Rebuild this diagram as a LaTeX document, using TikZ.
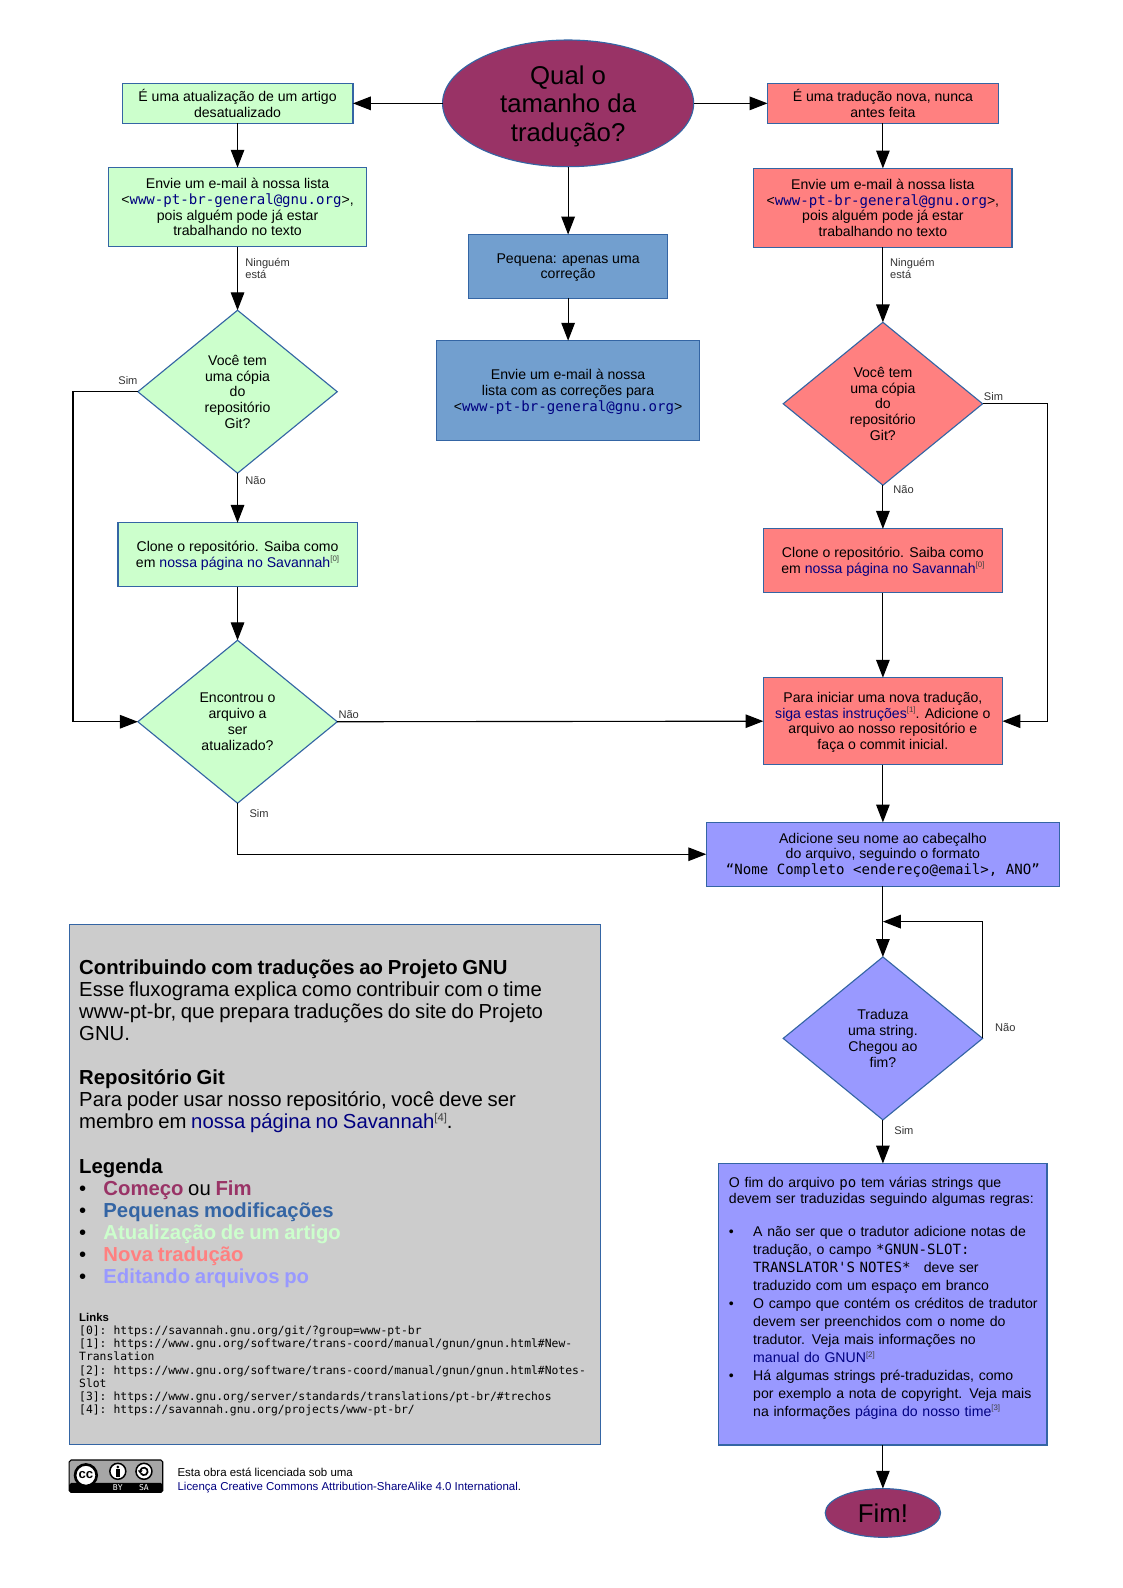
\documentclass[tikz,border=0pt]{standalone}
\usepackage{fontspec}
\setmainfont{Liberation Sans}
\setmonofont{DejaVu Sans Mono}
\usetikzlibrary{shapes.geometric,arrows.meta}

\definecolor{startcol}{HTML}{993366}
\definecolor{smallcol}{HTML}{729FCF}
\definecolor{updcol}{HTML}{CCFFCC}
\definecolor{newcol}{HTML}{FF8080}
\definecolor{pocol}{HTML}{9999FF}
\definecolor{greycol}{HTML}{CCCCCC}
\definecolor{edgecol}{HTML}{3465A4}
\definecolor{linkcol}{HTML}{000080}

\newcommand{\boxfont}{\fontsize{7.5}{8.35}\selectfont}
\newcommand{\hugefont}{\fontsize{13.7}{15.1}\selectfont}
\newcommand{\bigtext}{\fontsize{10.8}{11.75}\selectfont}
\newcommand{\linkfont}{\fontsize{6.05}{7.05}\selectfont}
\newcommand{\smallfont}{\fontsize{5.9}{6.4}\selectfont}
\newcommand{\licfont}{\fontsize{6.1}{7}\selectfont}
\newcommand{\lnk}[1]{\textcolor{linkcol}{#1}}
\newcommand{\lnkmail}{<\lnk{\texttt{www-pt-br-general@gnu.org}}>}
\newcommand{\bul}{\makebox[12.9pt][l]{•}}
\newcommand{\ind}{\hspace*{12.9pt}}
\newcommand{\fl}{\rule{0pt}{6.6pt}}
\newcommand{\supa}[1]{\raisebox{2.9pt}{\textcolor{black!75}{\fontsize{4.2}{4.2}\selectfont[#1]}}}
\newcommand{\supb}[1]{\raisebox{4.2pt}{\textcolor{black!75}{\fontsize{6}{6}\selectfont[#1]}}}

\begin{document}
\begin{tikzpicture}[>={Triangle[length=9.5pt,width=7.2pt]}]

\tikzstyle{basenode}=[inner sep=0mm,outer sep=0mm,line width=0.6pt,draw=edgecol,align=center,font=\boxfont]
\tikzstyle{startnode}=[basenode,ellipse,fill=startcol,font=\hugefont]
\tikzstyle{decnode}=[basenode,diamond,aspect=1.22,minimum width=10.61em,minimum height=8.67em]
\tikzstyle{updnode}=[basenode,rectangle,fill=updcol]
\tikzstyle{smallnode}=[basenode,rectangle,fill=smallcol]
\tikzstyle{newnode}=[basenode,rectangle,fill=newcol]
\tikzstyle{ponode}=[basenode,rectangle,fill=pocol]
\tikzstyle{lbl}=[anchor=west,inner sep=0mm,align=left,font=\smallfont,text=black!80]
\tikzstyle{arr}=[->,line width=0.6pt]
\tikzstyle{ccring}=[anchor=center,circle,draw=black,line width=0.8pt,fill=white,inner sep=0mm,minimum size=0.85em]
\tikzstyle{cctxt}=[anchor=center,inner sep=0mm,text=white,font=\fontsize{4.3}{4.5}\selectfont\ttfamily]

\path[use as bounding box] (0,0) rectangle (59.75em,-84.5em);

\begin{scope}[]

\node [anchor=center,startnode,minimum width=13.36em,minimum height=6.74em] (start) at (30.23em,-5.5em){\rule{0pt}{13pt}Qual o\\tamanho da\\tradução?};

\node [anchor=east,updnode,minimum width=12.28em,minimum height=2.1em] (upd1) at ([xshift=-4.77em]start.west){É uma atualização de um artigo\\desatualizado};
\node [anchor=north,updnode,minimum width=13.74em,minimum height=4.2em] (upd2) at ([yshift=-2.37em]upd1.south){Envie um e-mail à nossa lista\\\lnkmail,\\pois alguém pode já estar\\trabalhando no texto};
\node [anchor=north,decnode,fill=updcol] (upd3) at ([yshift=-3.39em]upd2.south){Você tem\\uma cópia\\do\\repositório\\Git?};
\node [anchor=north,updnode,minimum width=12.72em,minimum height=3.39em] (upd4) at ([yshift=-2.64em]upd3.south){\fl Clone o repositório. Saiba como\\em \lnk{nossa página no Savannah}\supa{0}};
\node [anchor=north,decnode,fill=updcol] (upd5) at ([yshift=-2.86em]upd4.south){Encontrou o\\arquivo a\\ser\\atualizado?};

\node [anchor=north,smallnode,minimum width=10.61em,minimum height=3.39em] (small1) at ([yshift=-3.61em]start.south){\fl Pequena: apenas uma\\correção};
\node [anchor=north,smallnode,minimum width=14.01em,minimum height=5.33em] (small2) at ([yshift=-2.26em]small1.south){\fl Envie um e-mail à nossa\\lista com as correções para\\\lnkmail};

\node [anchor=west,newnode,minimum width=12.28em,minimum height=2.1em] (new1) at ([xshift=3.93em]start.east){É uma tradução nova, nunca\\antes feita};
\node [anchor=north,newnode,minimum width=13.74em,minimum height=4.2em] (new2) at ([yshift=-2.41em]new1.south){Envie um e-mail à nossa lista\\\lnkmail,\\pois alguém pode já estar\\trabalhando no texto};
\node [anchor=north,decnode,fill=newcol] (new3) at ([yshift=-3.99em]new2.south){Você tem\\uma cópia\\do\\repositório\\Git?};
\node [anchor=north,newnode,minimum width=12.72em,minimum height=3.39em] (new4) at ([yshift=-2.32em]new3.south){\fl Clone o repositório. Saiba como\\em \lnk{nossa página no Savannah}\supa{0}};
\node [anchor=north,newnode,minimum width=12.72em,minimum height=4.63em] (new5) at ([yshift=-4.53em]new4.south){\fl Para iniciar uma nova tradução,\\\lnk{siga estas instruções}\supa{1}. Adicione o\\arquivo ao nosso repositório e\\faça o commit inicial.};

\node [anchor=north,ponode,minimum width=18.8em,minimum height=3.39em] (po1) at ([yshift=-3.07em]new5.south){\fl Adicione seu nome ao cabeçalho\\do arquivo, seguindo o formato\\\texttt{“Nome Completo <endereço@email>, ANO”}};
\node [anchor=north,decnode,fill=pocol] (po2) at ([yshift=-3.77em]po1.south){Traduza\\uma string.\\Chegou ao\\fim?};
\node [anchor=north,ponode,align=left,minimum width=17.46em,minimum height=14.98em,text width=163.8pt] (po3) at ([yshift=-2.32em]po2.south){%
{\fontsize{7.5}{8.7}\selectfont O fim do arquivo \texttt{po} tem várias strings que\\devem ser traduzidas seguindo algumas regras:\par}
\vspace{8.2pt}
{\fontsize{7.5}{9.55}\selectfont
\bul A não ser que o tradutor adicione notas de\\
\ind tradução, o campo \texttt{*GNUN-SLOT:}\\
\ind \texttt{TRANSLATOR'S NOTES*}\hspace{4.5pt} deve ser\\
\ind traduzido com um espaço em branco\\
\mbox{\bul O campo que contém os créditos de tradutor}\\
\ind devem ser preenchidos com o nome do\\
\ind tradutor. Veja mais informações no\\
\ind \lnk{manual do GNUN}\supa{2}\\
\bul Há algumas strings pré-traduzidas, como\\
\ind por exemplo a nota de copyright. Veja mais\\
\ind na informações \lnk{página do nosso time}\supa{3}\par}
\nointerlineskip\rule{0pt}{6.5pt}};
\node [anchor=north,startnode,minimum width=6.14em,minimum height=2.59em] (finish) at ([yshift=-2.32em]po3.south){Fim!};

\coordinate (loopin) at ([yshift=-1.89em]po1.south);

\draw[arr] (start.west)--(upd1.east);
\draw[arr] (start.east)--(new1.west);
\draw[arr] (start.south)--(small1.north);
\draw[arr] (small1.south)--(small2.north);
\draw[arr] (upd1.south)--(upd2.north);
\draw[arr] (upd2.south)--(upd3.north);
\draw[arr] (upd3.south)--(upd4.north);
\draw[arr] (upd4.south)--(upd5.north);
\draw[arr] (upd3.west)--([xshift=-3.45em]upd3.west) |- (upd5.west);
\draw[arr] (upd5.east)--(new5.west);
\draw[arr] (upd5.south) |- (po1.west);
\draw[arr] (new1.south)--(new2.north);
\draw[arr] (new2.south)--(new3.north);
\draw[arr] (new3.south)--(new4.north);
\draw[arr] (new4.south)--(new5.north);
\draw[arr] (new3.east)--([xshift=3.45em]new3.east) |- (new5.east);
\draw[arr] (new5.south)--(po1.north);
\draw[arr] (po1.south)--(po2.north);
\draw[arr] (po2.east) |- (loopin);
\draw[arr] (po2.south)--(po3.north);
\draw[arr] (po3.south)--(finish.north);

\node [lbl] (l1) at ([xshift=0.4em,yshift=-1.19em]upd2.south){Ninguém\\está};
\node [lbl,anchor=east] (l2) at ([yshift=0.59em]upd3.west){Sim};
\node [lbl] (l3) at ([xshift=0.4em,yshift=-0.38em]upd3.south){Não};
\node [lbl] (l4) at ([xshift=0.05em,yshift=0.38em]upd5.east){Não};
\node [lbl] (l5) at ([xshift=0.62em,yshift=-0.54em]upd5.south){Sim};
\node [lbl] (l6) at ([xshift=0.37em,yshift=-1.13em]new2.south){Ninguém\\está};
\node [lbl] (l7) at ([xshift=0.05em,yshift=0.4em]new3.east){Sim};
\node [lbl] (l8) at ([xshift=0.54em,yshift=-0.22em]new3.south){Não};
\node [lbl] (l9) at ([xshift=0.65em,yshift=0.57em]po2.east){Não};
\node [lbl] (l10) at ([xshift=0.59em,yshift=-0.59em]po2.south){Sim};

\node [anchor=north west,basenode,rectangle,fill=greycol,align=left,minimum width=28.27em,minimum height=27.69em,text width=272pt] (info) at (3.68em,-49.19em){%
{\bigtext\rule{0pt}{11.5pt}\textbf{Contribuindo com traduções ao Projeto GNU}\\
Esse fluxograma explica como contribuir com o time\\
www-pt-br, que prepara traduções do site do Projeto\\
GNU.\\
\mbox{}\\
\textbf{Repositório Git}\\
Para poder usar nosso repositório, você deve ser\\
membro em \lnk{nossa página no Savannah}\supb{4}.\\
\mbox{}\\
\textbf{Legenda}\\
\bul\textcolor{startcol}{\textbf{Começo}} ou \textcolor{startcol}{\textbf{Fim}}\\
\bul\textcolor{edgecol}{\textbf{Pequenas modificações}}\\
\bul\textcolor{updcol}{\textbf{Atualização de um artigo}}\\
\bul\textcolor{newcol}{\textbf{Nova tradução}}\\
\bul\textcolor{pocol}{\textbf{Editando arquivos po}}\par}
\vspace{13pt}
{\linkfont\textbf{Links}\\
\texttt{[0]: https://savannah.gnu.org/git/?group=www-pt-br}\\
\texttt{[1]: https://www.gnu.org/software/trans-coord/manual/gnun/gnun.html\#New-}\\
\texttt{Translation}\\
\texttt{[2]: https://www.gnu.org/software/trans-coord/manual/gnun/gnun.html\#Notes-}\\
\texttt{Slot}\\
\texttt{[3]: https://www.gnu.org/server/standards/translations/pt-br/\#trechos}\\
\texttt{[4]: https://savannah.gnu.org/projects/www-pt-br/}\par}};

\node [anchor=north west,rectangle,rounded corners=1pt,draw=black,fill=black!35,line width=0.6pt,inner sep=0mm,outer sep=0mm,minimum width=4.98em,minimum height=1.72em] (badge) at (3.68em,-77.69em){};
\fill[black,rounded corners=1pt] ([yshift=0.5em]badge.south west) rectangle (badge.south east);
\node [anchor=center,circle,draw=black,line width=1.4pt,fill=white,inner sep=0mm,minimum size=1.15em,font=\fontsize{7}{7}\selectfont\bfseries] (ccmark) at ([xshift=0.89em,yshift=-0.81em]badge.north west){cc};
\node [ccring] (bymark) at ([xshift=2.59em,yshift=-0.6em]badge.north west){};
\fill[black] ([yshift=0.23em]bymark.center) circle (0.08em);
\fill[black] ([xshift=-0.11em,yshift=-0.28em]bymark.center) rectangle ([xshift=0.11em,yshift=0.11em]bymark.center);
\node [ccring] (samark) at ([xshift=3.98em,yshift=-0.6em]badge.north west){};
\draw[black,line width=0.9pt] ([xshift=-0.2em,yshift=0.03em]samark.center) arc (170:-150:0.2em);
\fill[black] ([xshift=-0.33em,yshift=0.05em]samark.center) -- ([xshift=-0.07em,yshift=0.05em]samark.center) -- ([xshift=-0.2em,yshift=-0.12em]samark.center) -- cycle;
\node [cctxt] (bytxt) at ([xshift=2.59em,yshift=0.24em]badge.south west){BY};
\node [cctxt] (satxt) at ([xshift=3.98em,yshift=0.24em]badge.south west){SA};

\node [anchor=north west,inner sep=0mm,align=left,font=\licfont] (licence) at (9.43em,-78.12em){Esta obra está licenciada sob uma\\\lnk{Licença Creative Commons Attribution-ShareAlike 4.0 International}.};

\end{scope}
\end{tikzpicture}
\end{document}
